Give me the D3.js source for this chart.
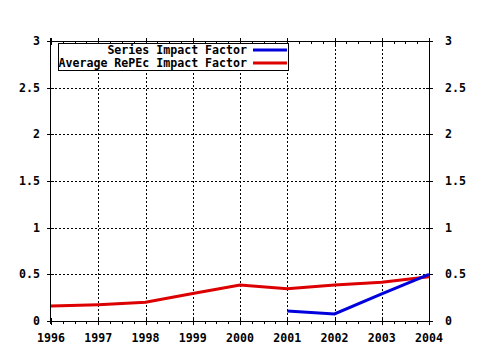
<!DOCTYPE html>
<html><head><meta charset="utf-8">
<script src="https://cdn.jsdelivr.net/npm/d3@7"></script>
<style>
html,body{margin:0;padding:0;background:#fff;}
svg{display:block;}
text{font-family:"DejaVu Sans Mono",monospace;font-weight:bold;font-size:11.6px;fill:#000;}
</style></head>
<body>
<script>
const years = [1996,1997,1998,1999,2000,2001,2002,2003,2004];
const seriesYears = [2001,2002,2003,2004];
const seriesImpact = [0.107,0.075,0.29,0.50];
const averageImpact = [0.16,0.175,0.20,0.295,0.385,0.345,0.385,0.415,0.475];
const yTicks = [0,0.5,1,1.5,2,2.5,3];
const yTickLabels = ["0","0.5","1","1.5","2","2.5","3"];
const legendLabels = ["Series Impact Factor","Average RePEc Impact Factor"];
const colors = ["#0000dd","#dd0000"];

const W=480,H=350;
const L=51,R=429,T=41,B=321;
const svg=d3.select("body").append("svg").attr("width",W).attr("height",H);
const x=d3.scaleLinear().domain([1996,2004]).range([L,R]);
const y=d3.scaleLinear().domain([0,3]).range([B,T]);

// grid
const g=svg.append("g").attr("shape-rendering","crispEdges");
g.selectAll(".vg").data(years.slice(1,-1)).join("line")
 .attr("x1",d=>Math.round(x(d))+0.5).attr("x2",d=>Math.round(x(d))+0.5)
 .attr("y1",T).attr("y2",B).attr("stroke","#000").attr("stroke-dasharray","2,2");
g.selectAll(".hg").data(yTicks.slice(1,-1)).join("line")
 .attr("y1",d=>Math.round(y(d))+0.5).attr("y2",d=>Math.round(y(d))+0.5)
 .attr("x1",L).attr("x2",R).attr("stroke","#000").attr("stroke-dasharray","2,2");

// axes
const minor=d3.range(1996,2004.001,0.25).filter(v=>Math.abs(v-Math.round(v))>0.01);
function axisX(yy, sideLabels){
  const a=svg.append("g").attr("transform",`translate(0,${yy})`);
  a.append("line").attr("x1",L-3).attr("x2",R+3).attr("y1",0.5).attr("y2",0.5).attr("stroke","#000").attr("shape-rendering","crispEdges");
  a.selectAll(".mj").data(years).join("line")
   .attr("x1",d=>Math.round(x(d))+0.5).attr("x2",d=>Math.round(x(d))+0.5)
   .attr("y1",-3).attr("y2",4).attr("stroke","#000").attr("shape-rendering","crispEdges");
  a.selectAll(".mn").data(minor).join("line")
   .attr("x1",d=>Math.round(x(d))+0.5).attr("x2",d=>Math.round(x(d))+0.5)
   .attr("y1",0).attr("y2",3).attr("stroke","#000").attr("shape-rendering","crispEdges");
  if(sideLabels){
    a.selectAll("text").data(years).join("text")
     .attr("x",d=>x(d)).attr("y",21).attr("text-anchor","middle").text(d=>d);
  }
}
axisX(B,true);
axisX(T,false);
function axisY(xx, left){
  const a=svg.append("g").attr("transform",`translate(${xx},0)`);
  a.append("line").attr("x1",0.5).attr("x2",0.5).attr("y1",T-3).attr("y2",B+3).attr("stroke","#000").attr("shape-rendering","crispEdges");
  a.selectAll(".mj").data(yTicks).join("line")
   .attr("y1",d=>Math.round(y(d))+0.5).attr("y2",d=>Math.round(y(d))+0.5)
   .attr("x1",-3).attr("x2",4).attr("stroke","#000").attr("shape-rendering","crispEdges");
  a.selectAll("text").data(yTicks).join("text")
   .attr("x",left?-10:16).attr("y",d=>y(d)+4)
   .attr("text-anchor",left?"end":"start").text((d,i)=>yTickLabels[i]);
}
axisY(L-1,true);
axisY(R,false);

// lines
const line=d3.line().x(d=>x(d[0])).y(d=>y(d[1]));
svg.append("path").datum(years.map((yr,i)=>[yr,averageImpact[i]]))
 .attr("d",line).attr("fill","none").attr("stroke",colors[1]).attr("stroke-width",3);
svg.append("path").datum(seriesYears.map((yr,i)=>[yr,seriesImpact[i]]))
 .attr("d",line).attr("fill","none").attr("stroke",colors[0]).attr("stroke-width",3);

// legend
const lg=svg.append("g");
lg.append("rect").attr("x",58.5).attr("y",43.5).attr("width",230).attr("height",27)
 .attr("fill","#fff").attr("stroke","#000").attr("shape-rendering","crispEdges");
legendLabels.forEach((t,i)=>{
  const cy=50+i*13;
  lg.append("text").attr("x",247).attr("y",cy+4).attr("text-anchor","end").text(t);
  lg.append("line").attr("x1",253).attr("x2",287).attr("y1",cy).attr("y2",cy)
   .attr("stroke",colors[i]).attr("stroke-width",3);
});
</script>
</body></html>
